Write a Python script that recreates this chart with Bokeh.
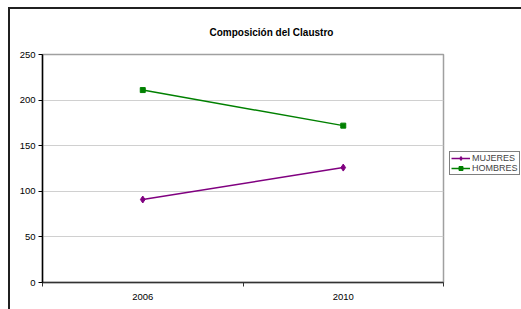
from bokeh.plotting import figure
from bokeh.models import FixedTicker, Legend, LegendItem, Range1d
from bokeh.embed import file_html
from bokeh.resources import INLINE

title_text = "Composición del Claustro"
years = ["2006", "2010"]
mujeres = [91, 126]
hombres = [211, 172]
y_ticks = [0, 50, 100, 150, 200, 250]

xs = [i + 0.5 for i in range(len(years))]

p = figure(width=511, height=300, frame_width=401, frame_height=228,
           output_backend="svg", toolbar_location=None,
           x_range=Range1d(0, len(years)), y_range=Range1d(0, 250),
           min_border_left=32, min_border_right=78, min_border_top=45,
           min_border_bottom=27)
p.styles = {"margin-left": "8px", "margin-top": "7px",
            "border-left": "2px solid #202020", "border-top": "2px solid #202020"}
p.background_fill_color = "white"
p.border_fill_color = "white"
p.outline_line_color = "#a0a0a0"
p.outline_line_width = 1.5

font = "Liberation Sans"

p.title.text = title_text
p.title.text_font = font
p.title.text_font_size = "10px"
p.title.text_font_style = "bold"
p.title.text_color = "black"
p.title.align = "left"
p.title.offset = 167
p.title.vertical_align = "top"
p.title.standoff = 30

# axes
p.xaxis.ticker = FixedTicker(ticks=xs, minor_ticks=list(range(len(years) + 1)))
p.xaxis.major_label_overrides = {x: y for x, y in zip(xs, years)}
p.xaxis.major_tick_out = 0
p.xaxis.major_tick_in = 0
p.xaxis.minor_tick_out = 4
p.xaxis.minor_tick_in = 0
p.xaxis.minor_tick_line_color = "#333333"
p.xaxis.axis_line_color = "#333333"
p.xaxis.axis_line_width = 1.5
p.xaxis.major_label_standoff = 7

p.yaxis.ticker = FixedTicker(ticks=y_ticks, minor_ticks=[])
p.yaxis.major_tick_out = 4
p.yaxis.major_tick_in = 0
p.yaxis.axis_line_color = "black"
p.yaxis.axis_line_width = 1.5
p.yaxis.major_tick_line_color = "black"
p.yaxis.major_label_standoff = 3

for ax in (p.xaxis, p.yaxis):
    ax.major_label_text_font = font
    ax.major_label_text_font_size = "9.5px"
    ax.major_label_text_color = "black"

p.xgrid.grid_line_color = None
p.ygrid.ticker = FixedTicker(ticks=y_ticks)
p.ygrid.grid_line_color = "#d0d0d0"
p.ygrid.grid_line_width = 1

# series
lm = p.line(xs, mujeres, line_color="#800080", line_width=1.5)
sm = p.scatter(xs, mujeres, marker="diamond", size=7, color="#800080")
lh = p.line(xs, hombres, line_color="#008000", line_width=1.5)
sh = p.scatter(xs, hombres, marker="square", size=5, color="#008000")

legend = Legend(items=[LegendItem(label="MUJERES", renderers=[lm, sm]),
                       LegendItem(label="HOMBRES", renderers=[lh, sh])],
                location=(6, 107))
legend.label_text_font = font
legend.label_text_font_size = "9px"
legend.label_height = 10
legend.glyph_height = 10
legend.glyph_width = 19
legend.spacing = 0
legend.padding = 1
legend.margin = 0
legend.label_standoff = 2
legend.border_line_color = "black"
legend.border_line_width = 1
legend.background_fill_alpha = 1
p.add_layout(legend, "right")

open("out.html", "w").write(file_html(p, INLINE))
